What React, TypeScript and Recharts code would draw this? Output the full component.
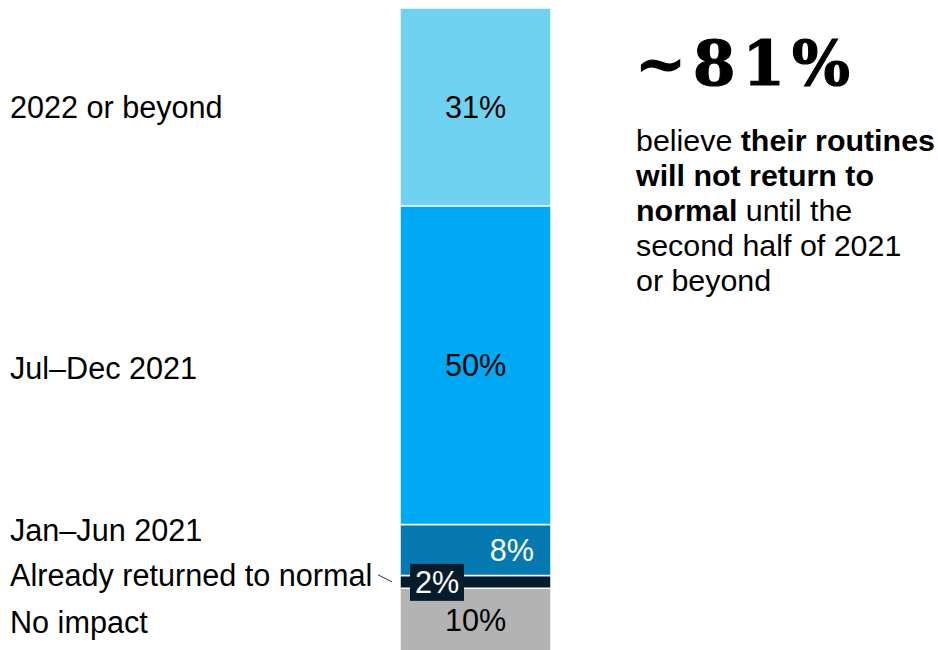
import React from 'react';
import { BarChart, Bar, XAxis, YAxis, LabelList } from 'recharts';

// ---- data ----
const categories = ['No impact', 'Already returned to normal', 'Jan–Jun 2021', 'Jul–Dec 2021', '2022 or beyond'];
const seriesKeys = ['noImpact', 'already', 'janJun', 'julDec', 'beyond'];
const values = [10, 2, 8, 50, 31];
const valueLabels = ['10%', '2%', '8%', '50%', '31%'];
const headline = '~81%';
const bodyLines: { text: string; bold: boolean }[][] = [
  [{ text: 'believe ', bold: false }, { text: 'their routines', bold: true }],
  [{ text: 'will not return to', bold: true }],
  [{ text: 'normal', bold: true }, { text: ' until the', bold: false }],
  [{ text: 'second half of 2021', bold: false }],
  [{ text: 'or beyond', bold: false }],
];

// ---- styles ----
const colors = ['#B3B3B3', '#051C2C', '#0679B0', '#00A9F4', '#70D2F1'];
const valueColors = ['#000000', '#FFFFFF', '#FFFFFF', '#000000', '#000000'];
const valueModes = ['center', 'box', 'right', 'center', 'center'];
const nameShift = [2, -7, -20, 3, 0];
const FONT = '"Liberation Sans", Arial, sans-serif';
const FS = 30.6;
const BODY_FS = 30.4;

const row: Record<string, number | string> = { name: 'All' };
seriesKeys.forEach((k, i) => {
  row[k] = values[i];
});
const data = [row];

const makeLabel = (i: number) => (p: any) => {
  const vb = p.viewBox || {};
  const x = Number(p.x ?? vb.x);
  const y0 = Number(p.y ?? vb.y);
  const w = Number(p.width ?? vb.width);
  const h0 = Number(p.height ?? vb.height);
  const y = Math.min(y0, y0 + h0);
  const h = Math.abs(h0);
  const cy = y + h / 2;
  const base = (c: number) => c + 0.36 * FS;
  const mode = valueModes[i];
  let valueEl: React.ReactNode = null;
  if (mode === 'center') {
    valueEl = (
      <text x={x + w / 2} y={base(cy)} textAnchor="middle" fontFamily={FONT} fontSize={FS} fill={valueColors[i]}>
        {valueLabels[i]}
      </text>
    );
  } else if (mode === 'right') {
    valueEl = (
      <text x={x + w - 17} y={base(cy)} textAnchor="end" fontFamily={FONT} fontSize={FS} fill={valueColors[i]}>
        {valueLabels[i]}
      </text>
    );
  } else {
    valueEl = (
      <g>
        <line x1={x - 22} y1={cy - 7} x2={x - 8} y2={cy} stroke="#333" strokeWidth={1} />
        <rect x={x + 10} y={cy - 18} width={54} height={37} fill={colors[i]} />
        <text x={x + 37} y={base(cy)} textAnchor="middle" fontFamily={FONT} fontSize={FS} fill={valueColors[i]}>
          {valueLabels[i]}
        </text>
      </g>
    );
  }
  return (
    <g>
      <text x={10} y={base(cy + nameShift[i])} fontFamily={FONT} fontSize={FS} fill="#000">
        {categories[i]}
      </text>
      {valueEl}
    </g>
  );
};

export default function App() {
  return (
    <div style={{ position: 'relative', width: 938, height: 650, overflow: 'hidden', background: '#fff' }}>
      <style>{`body{margin:0;overflow:hidden}`}</style>
      <BarChart
        width={938}
        height={650}
        data={data}
        margin={{ top: 8, right: 387, bottom: -2, left: 400 }}
        barCategoryGap={0}
      >
        <XAxis dataKey="name" hide />
        <YAxis hide domain={[0, 101]} />
        {seriesKeys.map((k, i) => (
          <Bar
            key={k}
            dataKey={k}
            stackId="a"
            fill={colors[i]}
            stroke="#FFFFFF"
            strokeWidth={1.5}
            isAnimationActive={false}
          >
            <LabelList dataKey={k} content={makeLabel(i)} />
          </Bar>
        ))}
      </BarChart>
      <svg width={938} height={650} style={{ position: 'absolute', left: 0, top: 0, pointerEvents: 'none' }}>
        <text
          x={635}
          y={85}
          fontFamily='"DejaVu Serif", Georgia, serif'
          fontWeight="bold"
          fontSize={61}
          letterSpacing={7}
          stroke="#000"
          strokeWidth={1.2}
          fill="#000"
        >
          {headline}
        </text>
        {bodyLines.map((line, li) => (
          <text key={li} x={636} y={151 + li * 35} fontFamily={FONT} fontSize={BODY_FS} fill="#000">
            {line.map((s, si) => (
              <tspan key={si} fontWeight={s.bold ? 'bold' : 'normal'}>
                {s.text}
              </tspan>
            ))}
          </text>
        ))}
      </svg>
    </div>
  );
}
